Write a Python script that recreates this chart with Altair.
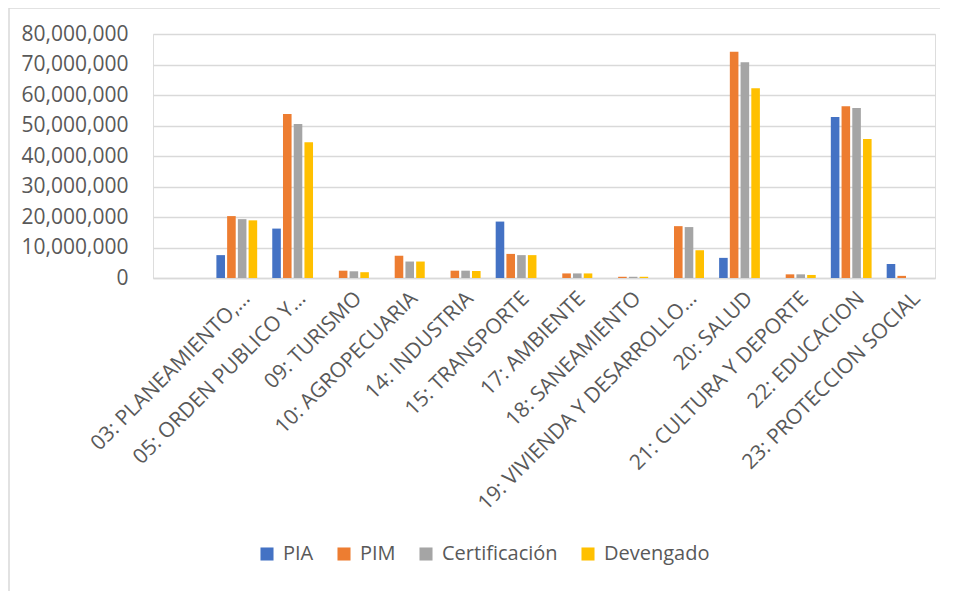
import altair as alt
import pandas as pd

categories = [
    "03: PLANEAMIENTO,…",
    "05: ORDEN PUBLICO Y…",
    "09: TURISMO",
    "10: AGROPECUARIA",
    "14: INDUSTRIA",
    "15: TRANSPORTE",
    "17: AMBIENTE",
    "18: SANEAMIENTO",
    "19: VIVIENDA Y DESARROLLO…",
    "20: SALUD",
    "21: CULTURA Y DEPORTE",
    "22: EDUCACION",
    "23: PROTECCION SOCIAL",
]
series = ["PIA", "PIM", "Certificación", "Devengado"]
colors = ["#4472C4", "#ED7D31", "#A5A5A5", "#FFC000"]

pia = [7.5e6, 16.2e6, 0, 0, 0, 18.5e6, 0, 0, 0, 6.6e6, 0, 52.8e6, 4.6e6]
pim = [20.3e6, 53.8e6, 2.4e6, 7.3e6, 2.4e6, 7.9e6, 1.5e6, 0.4e6, 17.0e6, 74.2e6, 1.2e6, 56.3e6, 0.7e6]
cert = [19.3e6, 50.5e6, 2.2e6, 5.4e6, 2.4e6, 7.5e6, 1.5e6, 0.4e6, 16.7e6, 70.7e6, 1.2e6, 55.7e6, 0]
dev = [18.9e6, 44.5e6, 1.9e6, 5.4e6, 2.3e6, 7.5e6, 1.5e6, 0.4e6, 9.1e6, 62.2e6, 1.0e6, 45.6e6, 0]

rows = []
for name, vals in zip(series, [pia, pim, cert, dev]):
    for c, v in zip(categories, vals):
        rows.append({"cat": c, "serie": name, "valor": v})
df = pd.DataFrame(rows)

FONT = "Open Sans"
GREY_TXT = "#595959"
GRID = "#d9d9d9"
W, H = 782, 244

x_domain = [" "] + categories

bars = alt.Chart(df).mark_bar().encode(
    x=alt.X("cat:N", scale=alt.Scale(domain=x_domain, paddingInner=0.27, paddingOuter=0.135),
            sort=x_domain,
            axis=alt.Axis(title=None, labelAngle=-45, labelAlign="right", labelBaseline="middle",
                          labelOffset=10, labelPadding=17, ticks=False, domainColor=GRID,
                          domainWidth=1.3, labelFontSize=21, labelColor=GREY_TXT, labelFont=FONT,
                          labelLimit=400, grid=False)),
    xOffset=alt.XOffset("serie:N", scale=alt.Scale(domain=series, paddingInner=0.2), sort=series),
    y=alt.Y("valor:Q", scale=alt.Scale(domain=[0, 80000000]),
            axis=alt.Axis(title=None, values=[i * 10000000 for i in range(9)], format=",.0f",
                          ticks=False, domain=False, gridColor=GRID, gridWidth=1.3,
                          labelFontSize=21, labelColor=GREY_TXT, labelFont=FONT, labelPadding=25)),
    color=alt.Color("serie:N", scale=alt.Scale(domain=series, range=colors), sort=series,
                    legend=alt.Legend(title=None, orient="none", direction="horizontal",
                                      legendX=104, legendY=510, symbolType="square",
                                      symbolSize=170, symbolStrokeWidth=0, labelFontSize=20,
                                      labelColor=GREY_TXT, labelFont=FONT, columnPadding=20,
                                      labelOffset=6)),
)

frame_df = pd.DataFrame({"k": [0]})
frame_left = alt.Chart(frame_df).mark_rule(color=GRID, strokeWidth=1.5, clip=False).encode(
    x=alt.value(-144), y=alt.value(-26), y2=alt.value(H + 330))
frame_top = alt.Chart(frame_df).mark_rule(color=GRID, strokeWidth=1.5, clip=False).encode(
    x=alt.value(-144), x2=alt.value(W + 40), y=alt.value(-26))

chart = alt.layer(frame_left, frame_top, bars).properties(
    width=W, height=H,
    padding={"left": 145, "top": 26, "right": 5, "bottom": 320},
    autosize=alt.AutoSizeParams(type="none"),
).configure_view(stroke=None).configure(background="white")

chart.save("out.html", embed_options={"renderer": "svg", "actions": False})
